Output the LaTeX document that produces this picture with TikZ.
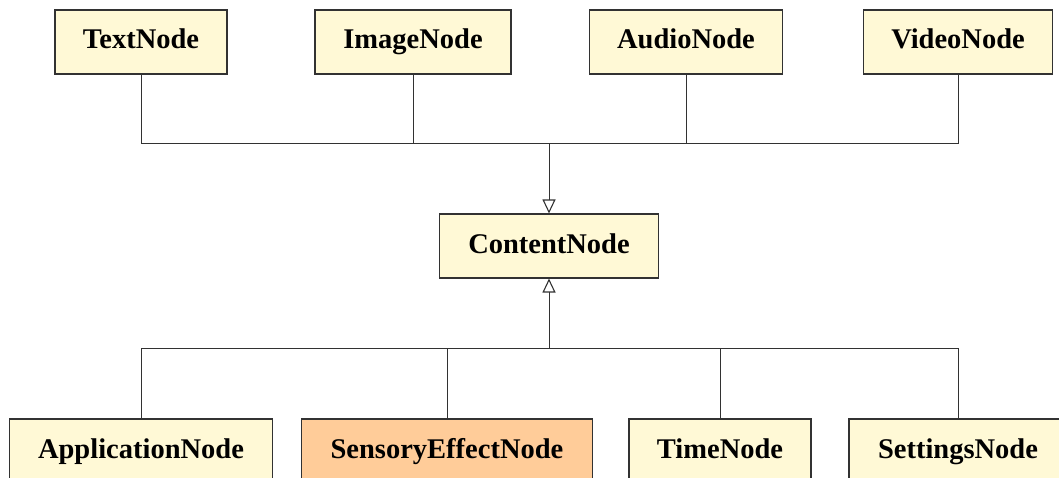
\documentclass[tikz,border=0pt]{standalone}
\usepackage{fontspec}
\setmainfont{Liberation Serif}
\usetikzlibrary{arrows.meta}
\definecolor{boxfill}{RGB}{255,249,214}
\definecolor{effectfill}{RGB}{255,204,153}
\definecolor{edgegray}{RGB}{50,50,50}
\tikzset{
  cls/.style={draw=edgegray, line width=1.1pt, fill=boxfill, inner sep=0pt,
    minimum height=64pt, text height=20pt, text depth=6pt,
    font=\fontsize{28.5}{30}\selectfont\bfseries},
  effect/.style={cls, fill=effectfill},
  link/.style={draw=edgegray, line width=1pt},
  inherit/.style={link, -{Triangle[open, length=14pt, width=13pt, line width=1.1pt]}}
}
\begin{document}
\begin{tikzpicture}[x=1pt, y=-1pt]
  \useasboundingbox (0,0) rectangle (1059,478);
  % subclasses above
  \node[cls, minimum width=172pt] (text)  at (141,42)   {TextNode};
  \node[cls, minimum width=196pt] (image) at (413,42)   {ImageNode};
  \node[cls, minimum width=193pt] (audio) at (686,42)   {AudioNode};
  \node[cls, minimum width=189pt] (video) at (958,42)   {VideoNode};
  % common base class
  \node[cls, minimum width=219pt] (content) at (549,246) {ContentNode};
  % subclasses below
  \node[cls, minimum width=263pt] (app)      at (141,451) {ApplicationNode};
  \node[effect, minimum width=291pt] (sensory) at (447,451) {SensoryEffectNode};
  \node[cls, minimum width=182pt] (time)     at (720,451) {TimeNode};
  \node[cls, minimum width=218pt] (settings) at (958,451) {SettingsNode};
  % junction points of the two buses
  \coordinate (topbus) at (549,144);
  \coordinate (botbus) at (549,348);
  % upper generalisation
  \draw[link] (text.south)  |- (topbus);
  \draw[link] (image.south) |- (topbus);
  \draw[link] (audio.south) |- (topbus);
  \draw[link] (video.south) |- (topbus);
  \draw[inherit] (topbus) -- (content.north);
  % lower generalisation
  \draw[link] (app.north)      |- (botbus);
  \draw[link] (sensory.north)  |- (botbus);
  \draw[link] (time.north)     |- (botbus);
  \draw[link] (settings.north) |- (botbus);
  \draw[inherit] (botbus) -- (content.south);
\end{tikzpicture}
\end{document}
